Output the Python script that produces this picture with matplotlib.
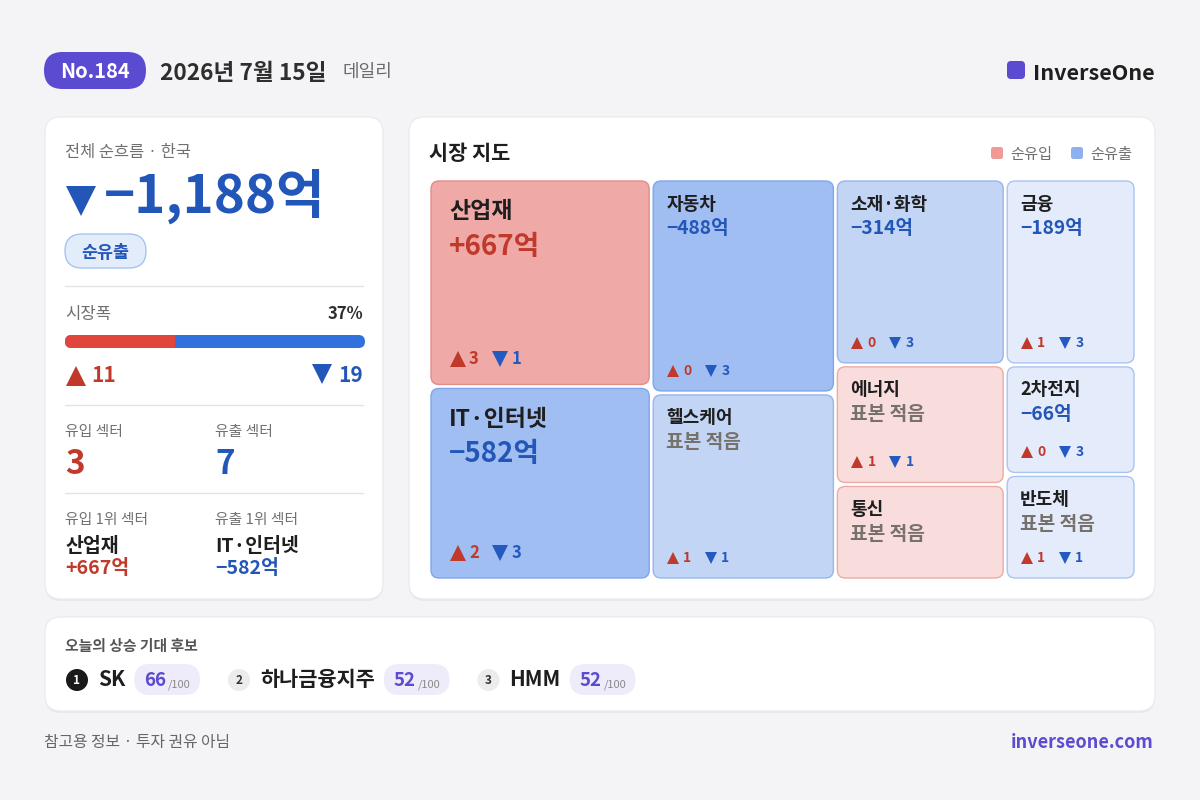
import matplotlib
matplotlib.use("Agg")
import matplotlib.pyplot as plt
from matplotlib.patches import FancyBboxPatch, Circle

FONT = ['Noto Sans CJK KR', 'DejaVu Sans']
plt.rcParams['font.family'] = FONT

# header
issue_no = 184
date_label = '2026년 7월 15일'
edition = '데일리'
brand = 'InverseOne'

# overall flow
market = '한국'
total_flow = -1188
n_up = 11
n_down = 19
n_in_sectors = 3
n_out_sectors = 7
top_in = ('산업재', 667)
top_out = ('IT·인터넷', -582)

# sector map
sectors = ['산업재', 'IT·인터넷', '자동차', '헬스케어', '소재·화학', '에너지', '통신', '금융', '2차전지', '반도체']
flows = [667, -582, -488, None, -314, None, None, -189, -66, None]   # None = 표본 적음
tile_weight = [44, 41, 37.5, 32.7, 30.2, 19.2, 15.2, 23.1, 13.4, 12.9]
tile_column = [0, 0, 1, 1, 2, 2, 2, 3, 3, 3]
direction = ['in', 'out', 'out', 'out', 'out', 'in', 'in', 'out', 'out', 'out']
intensity = [2, 2, 2, 1, 1, 0, 0, 0, 0, 0]
up_counts = [3, 2, 0, 1, 0, 1, None, 1, 0, 1]
down_counts = [1, 3, 3, 1, 3, 1, None, 3, 3, 1]

# candidates
cand_names = ['SK', '하나금융지주', 'HMM']
cand_scores = [66, 52, 52]

PURPLE = '#5b4bd1'
RED = '#c0392b'
BLUE = '#2256b8'
INK = '#1e1e1e'
GRAY = '#707070'

fig = plt.figure(figsize=(12, 8), dpi=100)
fig.patch.set_facecolor('#f4f4f7')
ax = fig.add_axes([0, 0, 1, 1])
ax.set_xlim(0, 1200)
ax.set_ylim(800, 0)
ax.axis('off')
renderer = fig.canvas.get_renderer()


def rbox(x, y, w, h, r, fc, ec='none', lw=1.0, z=1):
    p = FancyBboxPatch((x, y), w, h, boxstyle=f"round,pad=0,rounding_size={r}",
                       fc=fc, ec=ec, lw=lw, zorder=z)
    ax.add_patch(p)
    return p


def txt(x, y, s, size, color=INK, weight='normal', ha='left', va='center', z=5):
    # CJK glyph boxes sit a little high with va='center'; nudge down
    return ax.text(x, y + 2, s, fontsize=size, color=color, fontweight=weight,
                   ha=ha, va=va, zorder=z, family=FONT)


def width_of(t):
    return t.get_window_extent(renderer).width


def card(x, y, w, h):
    rbox(x, y + 2, w, h, 16, '#e8e8ee', z=1)
    rbox(x, y, w, h, 16, 'white', ec='#e9e9ee', lw=0.8, z=2)


def tri(x, y, up, size, color):
    ax.plot([x], [y], marker='^' if up else 'v', ms=size, color=color, mew=0, zorder=6)


def fmt_flow(v, comma=True):
    s = f"{abs(v):,}" if comma else str(abs(v))
    return ('+' if v > 0 else '\u2212') + s + '억'


# ---- header
rbox(44, 52, 102, 37, 18.5, PURPLE, z=2)
txt(95, 70, f'No.{issue_no}', 14.5, 'white', 'bold', ha='center')
txt(160, 71, date_label, 16.3, '#2e2e2e', 'bold')
txt(343, 70, edition, 13, '#6a6a6a')
rbox(1007, 61, 18, 18, 4, PURPLE, z=2)
txt(1155, 71, brand, 15.5, INK, 'bold', ha='right')

# ---- left card
card(45, 117, 338, 482)
txt(65, 150, f'전체 순흐름 · {market}', 11.8, GRAY)
tri(81, 201, False, 21, BLUE)
txt(104, 194, fmt_flow(total_flow), 38, BLUE, 'bold')
pill = '순유출' if total_flow < 0 else '순유입'
rbox(65, 234, 81, 34, 17, '#e3ecfb', ec='#a9c3f0', lw=1.0, z=3)
txt(105.5, 251, pill, 12.5, BLUE, 'bold', ha='center')
for yy in (286, 405, 493):
    ax.plot([65, 363], [yy, yy], color='#e4e4e8', lw=1, zorder=3)

breadth = round(100 * n_up / (n_up + n_down))
txt(65, 312, '시장폭', 12, GRAY)
txt(363, 312, f'{breadth}%', 12, '#2e2e2e', 'bold', ha='right')
bar_x, bar_w = 65, 300
red_w = bar_w * n_up / (n_up + n_down)
rbox(bar_x, 335, bar_w, 13, 6.5, '#3171de', z=3)
rbox(bar_x, 335, red_w, 13, 6.5, '#e0463c', z=4)
ax.add_patch(plt.Rectangle((bar_x + red_w - 7, 335), 7, 13, fc='#e0463c', ec='none', zorder=4))
tri(75.5, 376, True, 14, RED)
txt(91, 374, str(n_up), 15, RED, 'bold')
tri(322, 374, False, 14, BLUE)
txt(363, 374, str(n_down), 15, BLUE, 'bold', ha='right')

txt(65, 430, '유입 섹터', 10.7, GRAY)
txt(215, 430, '유출 섹터', 10.7, GRAY)
txt(65, 462, str(n_in_sectors), 24, RED, 'bold')
txt(215, 462, str(n_out_sectors), 24, BLUE, 'bold')
txt(65, 518, '유입 1위 섹터', 10.7, GRAY)
txt(215, 518, '유출 1위 섹터', 10.7, GRAY)
txt(65, 544, top_in[0], 14, INK, 'bold')
txt(215, 544, top_out[0], 14, INK, 'bold')
txt(65, 567, fmt_flow(top_in[1]), 14, RED, 'bold')
txt(215, 567, fmt_flow(top_out[1]), 14, BLUE, 'bold')

# ---- right card: sector map
card(409, 117, 746, 482)
txt(429, 151, '시장 지도', 15, INK, 'bold')
rbox(991, 147, 12, 12, 2.5, '#ef9a96', z=3)
txt(1010, 152, '순유입', 11, GRAY)
rbox(1071, 147, 12, 12, 2.5, '#8fb0ee', z=3)
txt(1090, 152, '순유출', 11, GRAY)

TILE_FC = {('in', 2): '#efaaa7', ('in', 1): '#f4c3c1', ('in', 0): '#f9dddc',
           ('out', 2): '#a0bef2', ('out', 1): '#c3d5f5', ('out', 0): '#e4ecfc'}
TILE_EC = {('in', 2): '#e68c87', ('in', 1): '#eba6a2', ('in', 0): '#eeaaa6',
           ('out', 2): '#7ea6ec', ('out', 1): '#96b6ee', ('out', 0): '#aac4f0'}


def slice_layout(weights, cols, x0, y0, w, h, gap):
    ncol = max(cols) + 1
    col_tot = [sum(wt for wt, c in zip(weights, cols) if c == k) for k in range(ncol)]
    total = sum(col_tot)
    usable_w = w - gap * (ncol - 1)
    rects = [None] * len(weights)
    x = x0
    for k in range(ncol):
        cw = usable_w * col_tot[k] / total
        idx = [i for i, c in enumerate(cols) if c == k]
        usable_h = h - gap * (len(idx) - 1)
        y = y0
        for i in idx:
            th = usable_h * weights[i] / col_tot[k]
            rects[i] = (x, y, cw, th)
            y += th + gap
        x += cw + gap
    return rects


rects = slice_layout(tile_weight, tile_column, 431, 181, 703, 397, 4)
for i, (x, y, w, h) in enumerate(rects):
    key = (direction[i], intensity[i])
    rbox(x, y, w, h, 8, TILE_FC[key], ec=TILE_EC[key], lw=1.0, z=3)
    big = w > 200
    if big:
        name_dy, val_dy, cnt_dy = 29, 64, 26
        name_fs, val_fs, cnt_fs, tri_ms = 16.5, 20, 12, 11
        pad, d_num, d_tri2, d_num2 = 18, 38, 68.5, 81
    else:
        name_dy, val_dy, cnt_dy = 21, 46, 21
        name_fs, val_fs, cnt_fs, tri_ms = 13, 13.8, 10, 9
        pad, d_num, d_tri2, d_num2 = 13, 30, 58, 68
    txt(x + pad, y + name_dy, sectors[i], name_fs, INK, 'bold')
    if flows[i] is None:
        txt(x + pad, y + val_dy, '표본 적음', val_fs, '#77716c', 'bold')
    else:
        txt(x + pad, y + val_dy, fmt_flow(flows[i], comma=False), val_fs,
            RED if flows[i] > 0 else BLUE, 'bold')
    if up_counts[i] is not None:
        cy = y + h - cnt_dy
        tri(x + pad + 7 * (tri_ms / 9), cy + 1, True, tri_ms, RED)
        txt(x + d_num, cy - 1, str(up_counts[i]), cnt_fs, RED, 'bold')
        tri(x + d_tri2, cy + 1, False, tri_ms, '#2459c0')
        txt(x + d_num2, cy - 1, str(down_counts[i]), cnt_fs, '#2459c0', 'bold')

# ---- candidates card
card(45, 617, 1110, 94)
txt(65, 644, '오늘의 상승 기대 후보', 10.7, '#555555', 'bold')
x = 66
for rank, (name, score) in enumerate(zip(cand_names, cand_scores), start=1):
    first = rank == 1
    ax.add_patch(Circle((x + 11, 680), 11, fc='#1a1a1a' if first else '#ececec', ec='none', zorder=4))
    txt(x + 11, 678, str(rank), 8.5, 'white' if first else '#333333', 'bold', ha='center')
    t = txt(x + 32, 678, name, 15, INK, 'bold')
    px = x + 32 + width_of(t) + 9
    ts = txt(px + 10, 678, str(score), 13.5, PURPLE, 'bold')
    tw = width_of(ts)
    tp = txt(px + 10 + tw + 2, 683, '/100', 8, '#8a8a8a')
    pw = 10 + tw + 2 + width_of(tp) + 9
    rbox(px, 664, pw, 31, 15.5, '#eeecfb', z=3)
    x = px + pw + 28

# ---- footer
txt(44, 741, '참고용 정보 · 투자 권유 아님', 11.4, '#666666')
txt(1154, 741, 'inverseone.com', 13, PURPLE, 'bold', ha='right')

fig.savefig('out.png', dpi=100, facecolor=fig.get_facecolor())
